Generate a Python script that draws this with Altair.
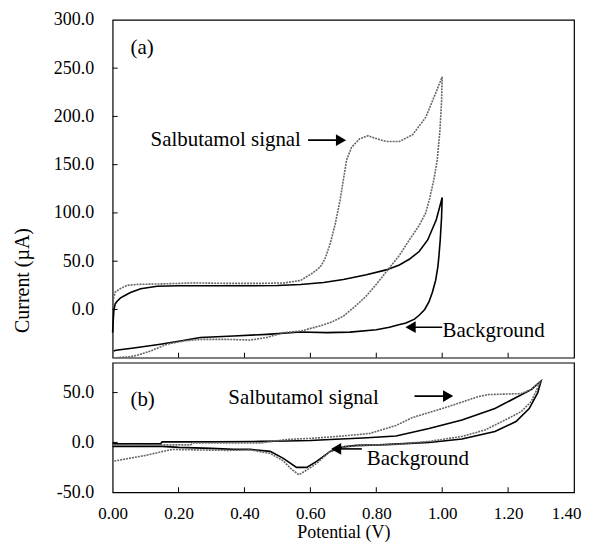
import altair as alt
import pandas as pd

# ---------------- data ----------------
# Panel (a): salbutamol signal (dotted grey), forward and reverse scan
sig_a_fwd_v = [0.000, 0.003, 0.008, 0.020, 0.044, 0.080, 0.150, 0.250, 0.350, 0.450, 0.520, 0.570,
               0.608, 0.630, 0.644, 0.660, 0.675, 0.690, 0.710, 0.725, 0.750, 0.775, 0.800, 0.830,
               0.870, 0.910, 0.950, 0.980, 1.000]
sig_a_fwd_i = [2, 12, 18, 21, 25, 26, 26.5, 27.5, 27, 27, 27.5, 30,
               38, 44, 52, 68, 88, 113, 155, 168, 177, 180, 177, 174,
               174, 181, 199, 224, 241]
sig_a_rev_v = [0.998, 0.993, 0.985, 0.975, 0.962, 0.950, 0.930, 0.900, 0.870, 0.835, 0.800, 0.770,
               0.735, 0.700, 0.665, 0.630, 0.570, 0.520, 0.468, 0.417, 0.347, 0.266, 0.215, 0.165,
               0.115, 0.080, 0.054, 0.010]
sig_a_rev_i = [215, 185, 155, 135, 115, 100, 87, 72, 56, 41, 26, 14,
               3, -7, -13, -17, -22.4, -24, -29, -31.7, -31, -31, -32.7, -36,
               -43, -47, -49, -50]

# Panel (a): background (solid black)
bg_a_fwd_v = [0.000, 0.002, 0.004, 0.008, 0.015, 0.024, 0.040, 0.054, 0.085, 0.135, 0.200, 0.300,
              0.400, 0.500, 0.570, 0.640, 0.700, 0.770, 0.830, 0.870, 0.900, 0.930, 0.956, 0.982, 1.000]
bg_a_fwd_i = [-24, -10, 0, 6, 9, 12, 15, 17.5, 21.5, 24, 24.5, 24.5,
              24.5, 24.8, 25.8, 28, 31, 36, 41, 46, 52, 60, 72, 93, 116]
bg_a_rev_v = [0.998, 0.994, 0.990, 0.987, 0.980, 0.970, 0.960, 0.947, 0.930, 0.916, 0.890, 0.871,
              0.840, 0.800, 0.720, 0.650, 0.570, 0.468, 0.367, 0.266, 0.205, 0.145, 0.064, 0.010, 0.003]
bg_a_rev_i = [95, 72, 55, 44.7, 30, 17.5, 8, 0, -6, -10, -14, -15.5,
              -18.5, -21, -23.5, -24, -23.4, -25.8, -27.5, -29, -32.7, -36, -40, -42.3, -43]

# Panel (b): salbutamol signal (dotted grey)
sig_b_fwd_v = [0.000, 0.100, 0.236, 0.245, 0.350, 0.450, 0.530, 0.600, 0.700, 0.780, 0.860, 0.910,
               1.010, 1.110, 1.140, 1.240, 1.270, 1.300]
sig_b_fwd_i = [-2.5, -2.5, -2.5, -0.5, -0.5, -0.5, 3, 4, 6.5, 9, 17, 25,
               35, 46, 48, 49, 53, 62]
sig_b_rev_v = [1.290, 1.270, 1.240, 1.200, 1.130, 1.060, 0.960, 0.860, 0.810, 0.740, 0.700, 0.660,
               0.619, 0.590, 0.565, 0.540, 0.518, 0.478, 0.417, 0.350, 0.250, 0.180, 0.100, 0.000]
sig_b_rev_i = [55, 41, 31, 24, 12.5, 6, 1, -2, -2.5, -3.5, -4.5, -9,
               -21, -27.5, -32.5, -26, -18.5, -11, -7.5, -8, -7.5, -7, -13, -19]

# Panel (b): background (solid black)
bg_b_fwd_v = [0.000, 0.145, 0.150, 0.300, 0.450, 0.530, 0.600, 0.660, 0.760, 0.860, 0.960, 1.060,
              1.160, 1.230, 1.270, 1.300]
bg_b_fwd_i = [-1.5, -1.5, 0.5, 0.5, 1, 1.5, 2, 3, 4.5, 6.5, 14, 22.5,
              34, 46, 53, 61.5]
bg_b_rev_v = [1.290, 1.264, 1.224, 1.160, 1.060, 0.960, 0.810, 0.740, 0.700, 0.660, 0.619, 0.589,
              0.558, 0.518, 0.478, 0.417, 0.367, 0.300, 0.200, 0.150, 0.000]
bg_b_rev_i = [50, 34, 21, 11, 3.5, 0, -2.5, -3, -4.5, -9, -19, -25,
              -25, -16, -9, -7, -7, -6, -5, -4, -4]

# axis tick values
x_ticks = [0.0, 0.2, 0.4, 0.6, 0.8, 1.0, 1.2, 1.4]
x_inner_ticks = [0.2, 0.4, 0.6, 0.8, 1.0, 1.2]
y_a_labels = [0, 50, 100, 150, 200, 250, 300]
y_a_inner_ticks = [0, 50, 100, 150, 200, 250]
y_b_labels = [-50, 0, 50]
y_b_inner_ticks = [0, 50]

# annotations
texts_a = ["(a)", "Salbutamol signal", "Background"]
texts_a_v = [0.054, 0.115, 1.001]
texts_a_i = [271, 175.4, -22.7]
texts_b = ["(b)", "Salbutamol signal", "Background"]
texts_b_v = [0.054, 0.351, 0.771]
texts_b_i = [42.5, 44.5, -16.5]

arrows_a_v = [0.593, 0.905]
arrows_a_v2 = [0.690, 1.000]
arrows_a_i = [175.4, -18.4]
heads_a_v = [0.693, 0.904]
heads_a_dir = ["right", "left"]

arrows_b_v = [0.916, 0.675]
arrows_b_v2 = [1.015, 0.756]
arrows_b_i = [46.5, -6.5]
heads_b_v = [1.018, 0.678]
heads_b_dir = ["right", "left"]

# ---------------- chart ----------------
FONT = "Liberation Serif"
W = 463
HA = 339
HB = 130
Y_LABEL = "datum.value < 0 ? '-' + format(-datum.value, '.1f') : format(datum.value, '.1f')"


def curve(fv, fi, rv, ri):
    v = list(fv) + list(rv)
    i = list(fi) + list(ri)
    return pd.DataFrame({"v": v, "i": i, "idx": list(range(len(v)))})


xs = alt.Scale(domain=[0, 1.4], nice=False, zero=False)


def panel(sig, bg, y_scale, y_axis, y_title, H, texts, tv, ti, av, av2, ai, hv, hi, hdir,
          y_ticks, x_axis, x_title):
    X = alt.X("v:Q", scale=xs, axis=x_axis, title=x_title)
    Y = alt.Y("i:Q", scale=y_scale, axis=y_axis, title=y_title)

    bg_line = alt.Chart(bg).mark_line(color="black", strokeWidth=1.6).encode(
        x=X, y=Y, order="idx:Q")
    sig_line = alt.Chart(sig).mark_line(color="#666666", strokeWidth=1.6, strokeDash=[2, 1]).encode(
        x=X, y=Y, order="idx:Q")

    xt = alt.Chart(pd.DataFrame({"v": x_inner_ticks})).mark_rule(color="black", strokeWidth=1).encode(
        x=X, y=alt.value(H), y2=alt.value(H - 5))
    yt = alt.Chart(pd.DataFrame({"i": y_ticks})).mark_rule(color="black", strokeWidth=1).encode(
        y=Y, x=alt.value(0), x2=alt.value(5))

    txt = alt.Chart(pd.DataFrame({"v": tv, "i": ti, "t": texts})).mark_text(
        align="left", baseline="middle", font=FONT, fontSize=21, color="black").encode(
        x=X, y=Y, text="t:N")

    arr = alt.Chart(pd.DataFrame({"v": av, "v2": av2, "i": ai})).mark_rule(
        color="black", strokeWidth=1.6).encode(x=X, x2="v2:Q", y=Y)
    heads = alt.Chart(pd.DataFrame({"v": hv, "i": hi, "d": hdir})).mark_point(
        filled=True, color="black", opacity=1, size=140).encode(
        x=X, y=Y,
        shape=alt.Shape("d:N", scale=alt.Scale(domain=["right", "left"],
                                                 range=["triangle-right", "triangle-left"]),
                        legend=None))

    return alt.layer(bg_line, sig_line, xt, yt, txt, arr, heads).properties(width=W, height=H)


top = panel(
    curve(sig_a_fwd_v, sig_a_fwd_i, sig_a_rev_v, sig_a_rev_i),
    curve(bg_a_fwd_v, bg_a_fwd_i, bg_a_rev_v, bg_a_rev_i),
    alt.Scale(domain=[-50, 300], nice=False, zero=False),
    alt.Axis(values=y_a_labels, labelExpr=Y_LABEL, labelPadding=19, labelFontSize=18,
             titleX=-90, titleY=261, titleAngle=-90, titleAlign="center",
             titleBaseline="middle", titleFontSize=20),
    "Current (µA)",
    HA, texts_a, texts_a_v, texts_a_i,
    arrows_a_v, arrows_a_v2, arrows_a_i, heads_a_v, arrows_a_i, heads_a_dir,
    y_a_inner_ticks, None, None)

bottom = panel(
    curve(sig_b_fwd_v, sig_b_fwd_i, sig_b_rev_v, sig_b_rev_i),
    curve(bg_b_fwd_v, bg_b_fwd_i, bg_b_rev_v, bg_b_rev_i),
    alt.Scale(domain=[-50, 80], nice=False, zero=False),
    alt.Axis(values=y_b_labels, labelExpr=Y_LABEL, labelPadding=19, labelFontSize=18),
    None,
    HB, texts_b, texts_b_v, texts_b_i,
    arrows_b_v, arrows_b_v2, arrows_b_i, heads_b_v, arrows_b_i, heads_b_dir,
    y_b_inner_ticks,
    alt.Axis(values=x_ticks, format=".2f", labelPadding=13, labelFlush=False, labelFontSize=17,
             labelAlign={"condition": {"test": "datum.value >= 1.39", "value": "right"},
                         "value": "center"},
             labelOffset={"condition": {"test": "datum.value >= 1.39", "value": 7},
                          "value": 0},
             titlePadding=2, titleFontSize=18),
    "Potential (V)")

chart = alt.vconcat(top, bottom, spacing=0).properties(
    padding={"left": 4, "top": 1, "right": 0, "bottom": 0},
    background="white",
).configure_view(
    stroke="black", strokeWidth=1.2
).configure_axis(
    domain=False, grid=False, ticks=False,
    labelFont=FONT, labelFontSize=17, labelColor="black",
    titleFont=FONT, titleColor="black", titleFontWeight="normal",
)

chart.save("out.html", embed_options={"renderer": "svg", "actions": False})
